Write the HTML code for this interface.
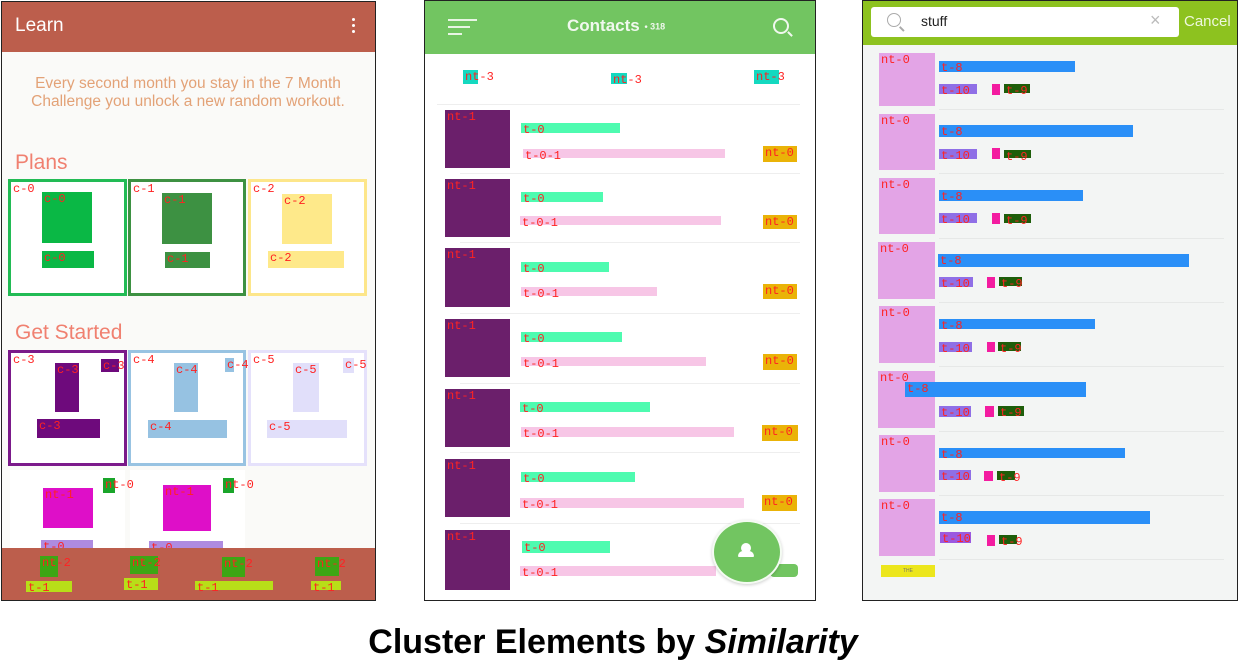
<!DOCTYPE html>
<html><head><meta charset="utf-8"><style>
body{margin:0;width:1238px;height:666px;background:#fff;position:relative;overflow:hidden;font-family:"Liberation Sans",sans-serif}
div{position:absolute;box-sizing:border-box}
.l{color:#ff2222;font:12px/12px "Liberation Mono",monospace;white-space:nowrap;padding:1px 0 0 2px}
</style></head><body>
<!-- Panel 1 -->
<div style="left:1px;top:1px;width:375px;height:600px;border:1px solid #222;background:#fafaf8"></div>
<div style="left:2px;top:2px;width:373px;height:50px;background:#bc5e4c"></div>
<div style="left:15px;top:15px;color:#fff;font-size:19px">Learn</div>
<div style="left:352px;top:18px;width:3px;height:3px;background:#fff;border-radius:2px"></div>
<div style="left:352px;top:24px;width:3px;height:3px;background:#fff;border-radius:2px"></div>
<div style="left:352px;top:30px;width:3px;height:3px;background:#fff;border-radius:2px"></div>
<div style="left:10px;top:75px;width:356px;text-align:center;color:#e3a277;font-size:15.5px;line-height:18px">Every second month you stay in the 7 Month<br>Challenge you unlock a new random workout.</div>
<div style="left:15px;top:151px;color:#f08070;font-size:21px">Plans</div>
<div style="left:8px;top:179px;width:119px;height:117px;border:3px solid #22bb55;background:#fff" class="l">c-0</div>
<div style="left:42px;top:192px;width:50px;height:51px;background:#0ab845" class="l">c-0</div>
<div style="left:42px;top:251px;width:52px;height:17px;background:#0ab845" class="l">c-0</div>
<div style="left:128px;top:179px;width:118px;height:117px;border:3px solid #3d9142;background:#fff" class="l">c-1</div>
<div style="left:162px;top:193px;width:50px;height:51px;background:#3d9142" class="l">c-1</div>
<div style="left:165px;top:252px;width:45px;height:16px;background:#3d9142" class="l">c-1</div>
<div style="left:248px;top:179px;width:119px;height:117px;border:3px solid #fde68a;background:#fff" class="l">c-2</div>
<div style="left:282px;top:194px;width:50px;height:50px;background:#fee98a" class="l">c-2</div>
<div style="left:268px;top:251px;width:76px;height:17px;background:#fee98a" class="l">c-2</div>
<div style="left:15px;top:321px;color:#f08070;font-size:21px">Get Started</div>
<div style="left:8px;top:350px;width:119px;height:116px;border:3px solid #7b1a8a;background:#fff" class="l">c-3</div>
<div style="left:55px;top:363px;width:24px;height:49px;background:#6e0a7c" class="l">c-3</div>
<div style="left:101px;top:359px;width:18px;height:13px;background:#6e0a7c" class="l">c-3</div>
<div style="left:37px;top:419px;width:63px;height:19px;background:#6e0a7c" class="l">c-3</div>
<div style="left:128px;top:350px;width:118px;height:116px;border:3px solid #98c3e2;background:#fff" class="l">c-4</div>
<div style="left:174px;top:363px;width:24px;height:49px;background:#96c2e2" class="l">c-4</div>
<div style="left:225px;top:358px;width:9px;height:14px;background:#96c2e2" class="l">c-4</div>
<div style="left:148px;top:420px;width:79px;height:18px;background:#96c2e2" class="l">c-4</div>
<div style="left:248px;top:350px;width:119px;height:116px;border:3px solid #e5e1fb;background:#fff" class="l">c-5</div>
<div style="left:293px;top:363px;width:26px;height:49px;background:#e1dffa" class="l">c-5</div>
<div style="left:343px;top:358px;width:11px;height:15px;background:#e1dffa" class="l">c-5</div>
<div style="left:267px;top:420px;width:80px;height:18px;background:#e1dffa" class="l">c-5</div>
<div style="left:10px;top:470px;width:115px;height:80px;background:#fff"></div>
<div style="left:130px;top:470px;width:115px;height:80px;background:#fff"></div>
<div style="left:43px;top:488px;width:50px;height:40px;background:#de0fc8" class="l">nt-1</div>
<div style="left:163px;top:485px;width:48px;height:46px;background:#de0fc8" class="l">nt-1</div>
<div style="left:103px;top:478px;width:12px;height:15px;background:#1aa52a" class="l">nt-0</div>
<div style="left:223px;top:478px;width:11px;height:15px;background:#1aa52a" class="l">nt-0</div>
<div style="left:41px;top:540px;width:52px;height:9px;background:#ae8be0" class="l">t-0</div>
<div style="left:149px;top:541px;width:74px;height:8px;background:#ae8be0" class="l">t-0</div>
<div style="left:2px;top:548px;width:373px;height:52px;background:#bc5e4c"></div>
<div style="left:40px;top:556px;width:18px;height:21px;background:#3da614" class="l">nt-2</div>
<div style="left:130px;top:556px;width:28px;height:18px;background:#3da614" class="l">nt-2</div>
<div style="left:222px;top:557px;width:23px;height:20px;background:#3da614" class="l">nt-2</div>
<div style="left:315px;top:557px;width:24px;height:19px;background:#3da614" class="l">nt-2</div>
<div style="left:26px;top:581px;width:46px;height:11px;background:#b8de18" class="l">t-1</div>
<div style="left:124px;top:578px;width:34px;height:12px;background:#b8de18" class="l">t-1</div>
<div style="left:195px;top:581px;width:78px;height:9px;background:#b8de18" class="l">t-1</div>
<div style="left:311px;top:581px;width:30px;height:9px;background:#b8de18" class="l">t-1</div>

<!-- Panel 2 -->
<div style="left:424px;top:0px;width:392px;height:601px;border:1px solid #222;background:#fff"></div>
<div style="left:425px;top:1px;width:390px;height:53px;background:#72c561"></div>
<div style="left:448px;top:19px;width:29px;height:2px;background:#e8f5e4"></div>
<div style="left:448px;top:26px;width:22px;height:2px;background:#e8f5e4"></div>
<div style="left:448px;top:33px;width:14px;height:2px;background:#e8f5e4"></div>
<div style="left:567px;top:16px;color:#f0f8ee;font-size:17px;font-weight:bold">Contacts <span style="font-size:9px;vertical-align:middle">• 318</span></div>
<div style="left:773px;top:18px;width:16px;height:16px;border:2px solid #f0f8ee;border-radius:50%"></div>
<div style="left:787px;top:33px;width:6px;height:2px;background:#f0f8ee;transform:rotate(45deg)"></div>
<div style="left:463px;top:70px;width:15px;height:14px;background:#14d9c0" class="l">nt-3</div>
<div style="left:611px;top:73px;width:16px;height:11px;background:#14d9c0" class="l">nt-3</div>
<div style="left:754px;top:70px;width:25px;height:14px;background:#14d9c0" class="l">nt-3</div>
<div style="left:437px;top:104px;width:363px;height:1px;background:#eee"></div>

<div style="left:445px;top:110px;width:65px;height:58px;background:#6b1f6b" class="l">nt-1</div>
<div style="left:521px;top:123px;width:99px;height:10px;background:#4efbb0" class="l">t-0</div>
<div style="left:523px;top:149px;width:202px;height:9px;background:#f7c6e6" class="l">t-0-1</div>
<div style="left:763px;top:146px;width:34px;height:16px;background:#eab308" class="l">nt-0</div>
<div style="left:460px;top:173px;width:340px;height:1px;background:#eee"></div>

<div style="left:445px;top:179px;width:65px;height:58px;background:#6b1f6b" class="l">nt-1</div>
<div style="left:521px;top:192px;width:82px;height:10px;background:#4efbb0" class="l">t-0</div>
<div style="left:520px;top:216px;width:201px;height:9px;background:#f7c6e6" class="l">t-0-1</div>
<div style="left:763px;top:215px;width:34px;height:14px;background:#eab308" class="l">nt-0</div>
<div style="left:460px;top:242px;width:340px;height:1px;background:#eee"></div>

<div style="left:445px;top:248px;width:65px;height:59px;background:#6b1f6b" class="l">nt-1</div>
<div style="left:521px;top:262px;width:88px;height:10px;background:#4efbb0" class="l">t-0</div>
<div style="left:521px;top:287px;width:136px;height:9px;background:#f7c6e6" class="l">t-0-1</div>
<div style="left:763px;top:284px;width:34px;height:15px;background:#eab308" class="l">nt-0</div>
<div style="left:460px;top:313px;width:340px;height:1px;background:#eee"></div>

<div style="left:445px;top:319px;width:65px;height:58px;background:#6b1f6b" class="l">nt-1</div>
<div style="left:521px;top:332px;width:101px;height:10px;background:#4efbb0" class="l">t-0</div>
<div style="left:521px;top:357px;width:185px;height:9px;background:#f7c6e6" class="l">t-0-1</div>
<div style="left:763px;top:354px;width:34px;height:16px;background:#eab308" class="l">nt-0</div>
<div style="left:460px;top:383px;width:340px;height:1px;background:#eee"></div>

<div style="left:445px;top:389px;width:65px;height:58px;background:#6b1f6b" class="l">nt-1</div>
<div style="left:520px;top:402px;width:130px;height:10px;background:#4efbb0" class="l">t-0</div>
<div style="left:521px;top:427px;width:213px;height:10px;background:#f7c6e6" class="l">t-0-1</div>
<div style="left:762px;top:425px;width:36px;height:16px;background:#eab308" class="l">nt-0</div>
<div style="left:460px;top:452px;width:340px;height:1px;background:#eee"></div>

<div style="left:445px;top:459px;width:65px;height:58px;background:#6b1f6b" class="l">nt-1</div>
<div style="left:521px;top:472px;width:114px;height:10px;background:#4efbb0" class="l">t-0</div>
<div style="left:520px;top:498px;width:224px;height:10px;background:#f7c6e6" class="l">t-0-1</div>
<div style="left:762px;top:495px;width:35px;height:16px;background:#eab308" class="l">nt-0</div>
<div style="left:460px;top:523px;width:340px;height:1px;background:#eee"></div>

<div style="left:445px;top:530px;width:65px;height:60px;background:#6b1f6b" class="l">nt-1</div>
<div style="left:522px;top:541px;width:88px;height:12px;background:#4efbb0" class="l">t-0</div>
<div style="left:520px;top:566px;width:196px;height:10px;background:#f7c6e6" class="l">t-0-1</div>
<div style="left:770px;top:564px;width:28px;height:13px;background:#72c561;border-radius:4px"></div>
<div style="left:712px;top:520px;width:70px;height:64px;border-radius:50%;background:#72c561;border:2px solid #f4fbf2;box-shadow:0 1px 3px rgba(0,0,0,.2)"></div>
<div style="left:741px;top:543px;width:10px;height:10px;border-radius:50%;background:#fff"></div>
<div style="left:738px;top:551px;width:16px;height:6px;border-radius:5px 5px 1px 1px;background:#fff"></div>

<!-- Panel 3 -->
<div style="left:862px;top:0px;width:376px;height:601px;border:1px solid #222;background:#f3f5f4"></div>
<div style="left:863px;top:1px;width:374px;height:44px;background:#8dc21f"></div>
<div style="left:871px;top:7px;width:308px;height:30px;background:#fff;border-radius:3px"></div>
<div style="left:887px;top:13px;width:14px;height:14px;border:1.5px solid #aaa;border-radius:50%"></div>
<div style="left:899px;top:28px;width:6px;height:1.5px;background:#aaa;transform:rotate(45deg)"></div>
<div style="left:921px;top:13px;font-size:14px;color:#222">stuff</div>
<div style="left:1150px;top:10px;font-size:18px;color:#bbb;font-weight:300">×</div>
<div style="left:1184px;top:13px;font-size:15px;color:#eef7dd">Cancel</div>

<div style="left:879px;top:53px;width:56px;height:53px;background:#e3a4e6" class="l">nt-0</div>
<div style="left:939px;top:61px;width:136px;height:11px;background:#2a8ff7" class="l">t-8</div>
<div style="left:939px;top:84px;width:38px;height:10px;background:#8f6fe6" class="l">t-10</div>
<div style="left:992px;top:84px;width:8px;height:11px;background:#f31ca0"></div>
<div style="left:1004px;top:84px;width:26px;height:9px;background:#1e5e0a" class="l">t-9</div>
<div style="left:939px;top:109px;width:285px;height:1px;background:#e6e8e7"></div>

<div style="left:879px;top:114px;width:56px;height:56px;background:#e3a4e6" class="l">nt-0</div>
<div style="left:939px;top:125px;width:194px;height:12px;background:#2a8ff7" class="l">t-8</div>
<div style="left:939px;top:149px;width:38px;height:10px;background:#8f6fe6" class="l">t-10</div>
<div style="left:992px;top:148px;width:8px;height:11px;background:#f31ca0"></div>
<div style="left:1004px;top:150px;width:27px;height:8px;background:#1e5e0a" class="l">t-9</div>
<div style="left:939px;top:173px;width:285px;height:1px;background:#e6e8e7"></div>

<div style="left:879px;top:178px;width:56px;height:56px;background:#e3a4e6" class="l">nt-0</div>
<div style="left:939px;top:190px;width:144px;height:11px;background:#2a8ff7" class="l">t-8</div>
<div style="left:939px;top:213px;width:38px;height:10px;background:#8f6fe6" class="l">t-10</div>
<div style="left:992px;top:213px;width:8px;height:11px;background:#f31ca0"></div>
<div style="left:1004px;top:214px;width:27px;height:9px;background:#1e5e0a" class="l">t-9</div>
<div style="left:939px;top:238px;width:285px;height:1px;background:#e6e8e7"></div>

<div style="left:878px;top:242px;width:57px;height:57px;background:#e3a4e6" class="l">nt-0</div>
<div style="left:938px;top:254px;width:251px;height:13px;background:#2a8ff7" class="l">t-8</div>
<div style="left:939px;top:277px;width:34px;height:10px;background:#8f6fe6" class="l">t-10</div>
<div style="left:987px;top:277px;width:8px;height:11px;background:#f31ca0"></div>
<div style="left:999px;top:277px;width:23px;height:9px;background:#1e5e0a" class="l">t-9</div>
<div style="left:939px;top:302px;width:285px;height:1px;background:#e6e8e7"></div>

<div style="left:879px;top:306px;width:56px;height:57px;background:#e3a4e6" class="l">nt-0</div>
<div style="left:939px;top:319px;width:156px;height:10px;background:#2a8ff7" class="l">t-8</div>
<div style="left:939px;top:342px;width:33px;height:10px;background:#8f6fe6" class="l">t-10</div>
<div style="left:987px;top:342px;width:8px;height:10px;background:#f31ca0"></div>
<div style="left:998px;top:342px;width:23px;height:9px;background:#1e5e0a" class="l">t-9</div>
<div style="left:939px;top:366px;width:285px;height:1px;background:#e6e8e7"></div>

<div style="left:878px;top:371px;width:57px;height:57px;background:#e3a4e6" class="l">nt-0</div>
<div style="left:905px;top:382px;width:181px;height:15px;background:#2a8ff7" class="l">t-8</div>
<div style="left:939px;top:406px;width:32px;height:11px;background:#8f6fe6" class="l">t-10</div>
<div style="left:985px;top:406px;width:9px;height:11px;background:#f31ca0"></div>
<div style="left:998px;top:406px;width:26px;height:10px;background:#1e5e0a" class="l">t-9</div>
<div style="left:939px;top:431px;width:285px;height:1px;background:#e6e8e7"></div>

<div style="left:879px;top:435px;width:56px;height:57px;background:#e3a4e6" class="l">nt-0</div>
<div style="left:939px;top:448px;width:186px;height:10px;background:#2a8ff7" class="l">t-8</div>
<div style="left:939px;top:470px;width:32px;height:10px;background:#8f6fe6" class="l">t-10</div>
<div style="left:984px;top:471px;width:9px;height:10px;background:#f31ca0"></div>
<div style="left:997px;top:471px;width:18px;height:9px;background:#1e5e0a" class="l">t-9</div>
<div style="left:939px;top:495px;width:285px;height:1px;background:#e6e8e7"></div>

<div style="left:879px;top:499px;width:56px;height:57px;background:#e3a4e6" class="l">nt-0</div>
<div style="left:939px;top:511px;width:211px;height:13px;background:#2a8ff7" class="l">t-8</div>
<div style="left:940px;top:532px;width:31px;height:11px;background:#9b59e0" class="l">t-10</div>
<div style="left:987px;top:535px;width:8px;height:11px;background:#f31ca0"></div>
<div style="left:999px;top:535px;width:18px;height:9px;background:#1e5e0a" class="l">t-9</div>
<div style="left:939px;top:559px;width:285px;height:1px;background:#e6e8e7"></div>
<div style="left:881px;top:565px;width:54px;height:12px;background:#ece61c;font-size:5px;color:#776;text-align:center;line-height:12px">THE</div>

<div style="left:0;top:623px;width:1226px;text-align:center;font-size:34px;font-weight:bold;color:#000">Cluster Elements by <i>Similarity</i></div>
</body></html>
